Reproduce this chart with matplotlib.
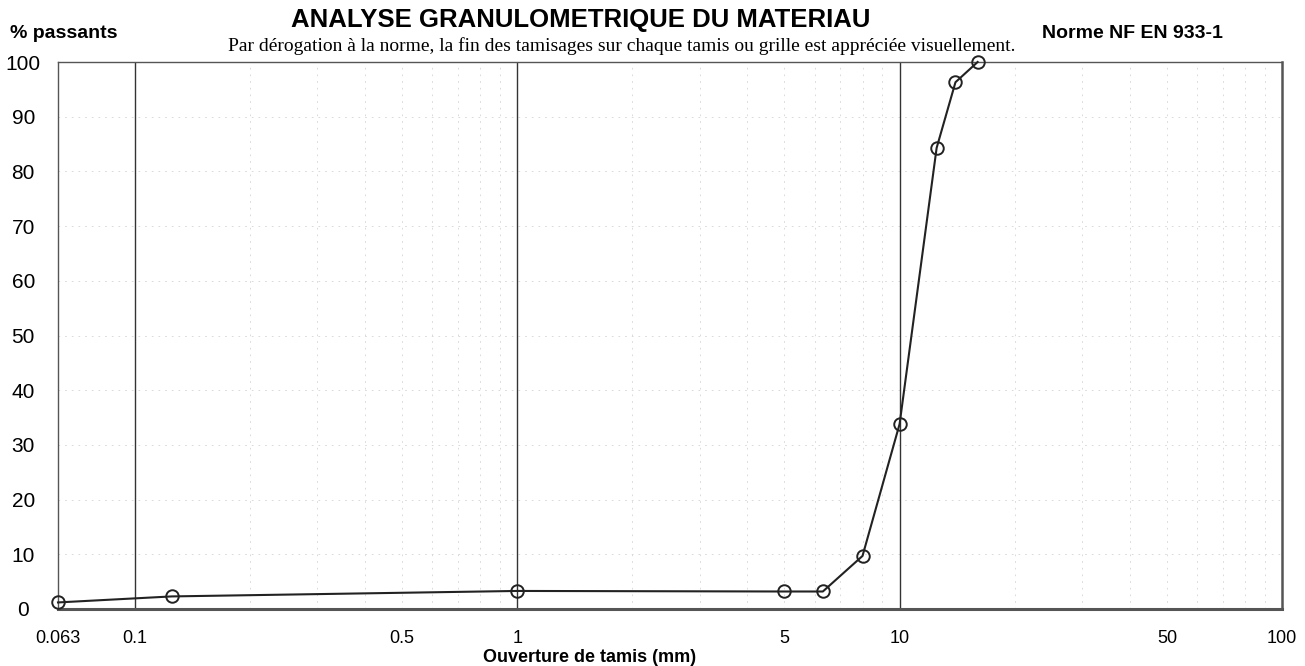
import matplotlib
matplotlib.use("Agg")
import matplotlib.pyplot as plt
import numpy as np

sieve_mm = [0.063, 0.125, 1, 5, 6.3, 8, 10, 12.5, 14, 16]
passing_pct = [1.2, 2.3, 3.3, 3.2, 3.2, 9.7, 33.8, 84.3, 96.3, 100]

xtick_vals = [0.063, 0.1, 0.5, 1, 5, 10, 50, 100]
xtick_labels = ["0.063", "0.1", "0.5", "1", "5", "10", "50", "100"]
ytick_vals = [0, 10, 20, 30, 40, 50, 60, 70, 80, 90, 100]
major_vlines = [0.1, 1, 10]
minor_vlines = [0.2, 0.3, 0.4, 0.5, 0.6, 0.7, 0.8, 0.9, 2, 3, 4, 5, 6, 7, 8, 9,
                20, 30, 40, 50, 60, 70, 80, 90]

W, H = 1305, 666
fig = plt.figure(figsize=(W / 100, H / 100), dpi=100)
ax = fig.add_axes([58 / W, 1 - 609 / H, (1282 - 58) / W, (609 - 62) / H])

ax.set_xscale("log")
ax.set_xlim(0.063, 100)
ax.set_ylim(0, 100)

grid_col = "#d4d4d4"
for v in minor_vlines:
    ax.axvline(v, color=grid_col, lw=0.6, ls=(0, (2, 6)), zorder=1)
for v in ytick_vals[1:-1]:
    ax.axhline(v, color=grid_col, lw=0.6, ls=(0, (2, 6)), zorder=1)
for v in major_vlines:
    ax.axvline(v, color="#333333", lw=1.0, zorder=2)

ax.plot(sieve_mm, passing_pct, color="#222222", lw=1.5, marker="o",
        markersize=9, markerfacecolor="none", markeredgecolor="#222222",
        markeredgewidth=1.4, zorder=5, clip_on=False)

for s in ax.spines.values():
    s.set_color("#555555")
    s.set_linewidth(1.0)
ax.spines["bottom"].set_linewidth(2.2)
ax.spines["right"].set_linewidth(1.8)

ax.set_xticks(xtick_vals)
ax.set_xticklabels(xtick_labels, fontfamily="Liberation Sans", fontsize=13)
ax.xaxis.set_minor_locator(matplotlib.ticker.NullLocator())
ax.tick_params(axis="x", length=0, pad=15)

ax.set_yticks(ytick_vals)
ax.set_yticklabels([str(v) for v in ytick_vals], fontfamily="Liberation Sans", fontsize=15)
ax.tick_params(axis="y", length=0, pad=25)
for lab in ax.get_yticklabels():
    lab.set_horizontalalignment("center")

fig.text(581 / W, 1 - 20 / H, "ANALYSE GRANULOMETRIQUE DU MATERIAU",
         fontfamily="Liberation Sans", fontweight="bold", fontsize=18.5,
         ha="center", va="center")
fig.text(622 / W, 1 - 46 / H,
         "Par dérogation à la norme, la fin des tamisages sur chaque tamis ou grille est appréciée visuellement.",
         fontfamily="Liberation Serif", fontsize=14, ha="center", va="center")
fig.text(10 / W, 1 - 33 / H, "% passants", fontfamily="Liberation Sans",
         fontweight="bold", fontsize=14, ha="left", va="center")
fig.text(1132 / W, 1 - 34 / H, "Norme NF EN 933-1", fontfamily="Liberation Sans",
         fontweight="bold", fontsize=14, ha="center", va="center")
fig.text(590 / W, 1 - 658 / H, "Ouverture de tamis (mm)", fontfamily="Liberation Sans",
         fontweight="bold", fontsize=13, ha="center", va="center")

fig.savefig("out.png", dpi=100)
